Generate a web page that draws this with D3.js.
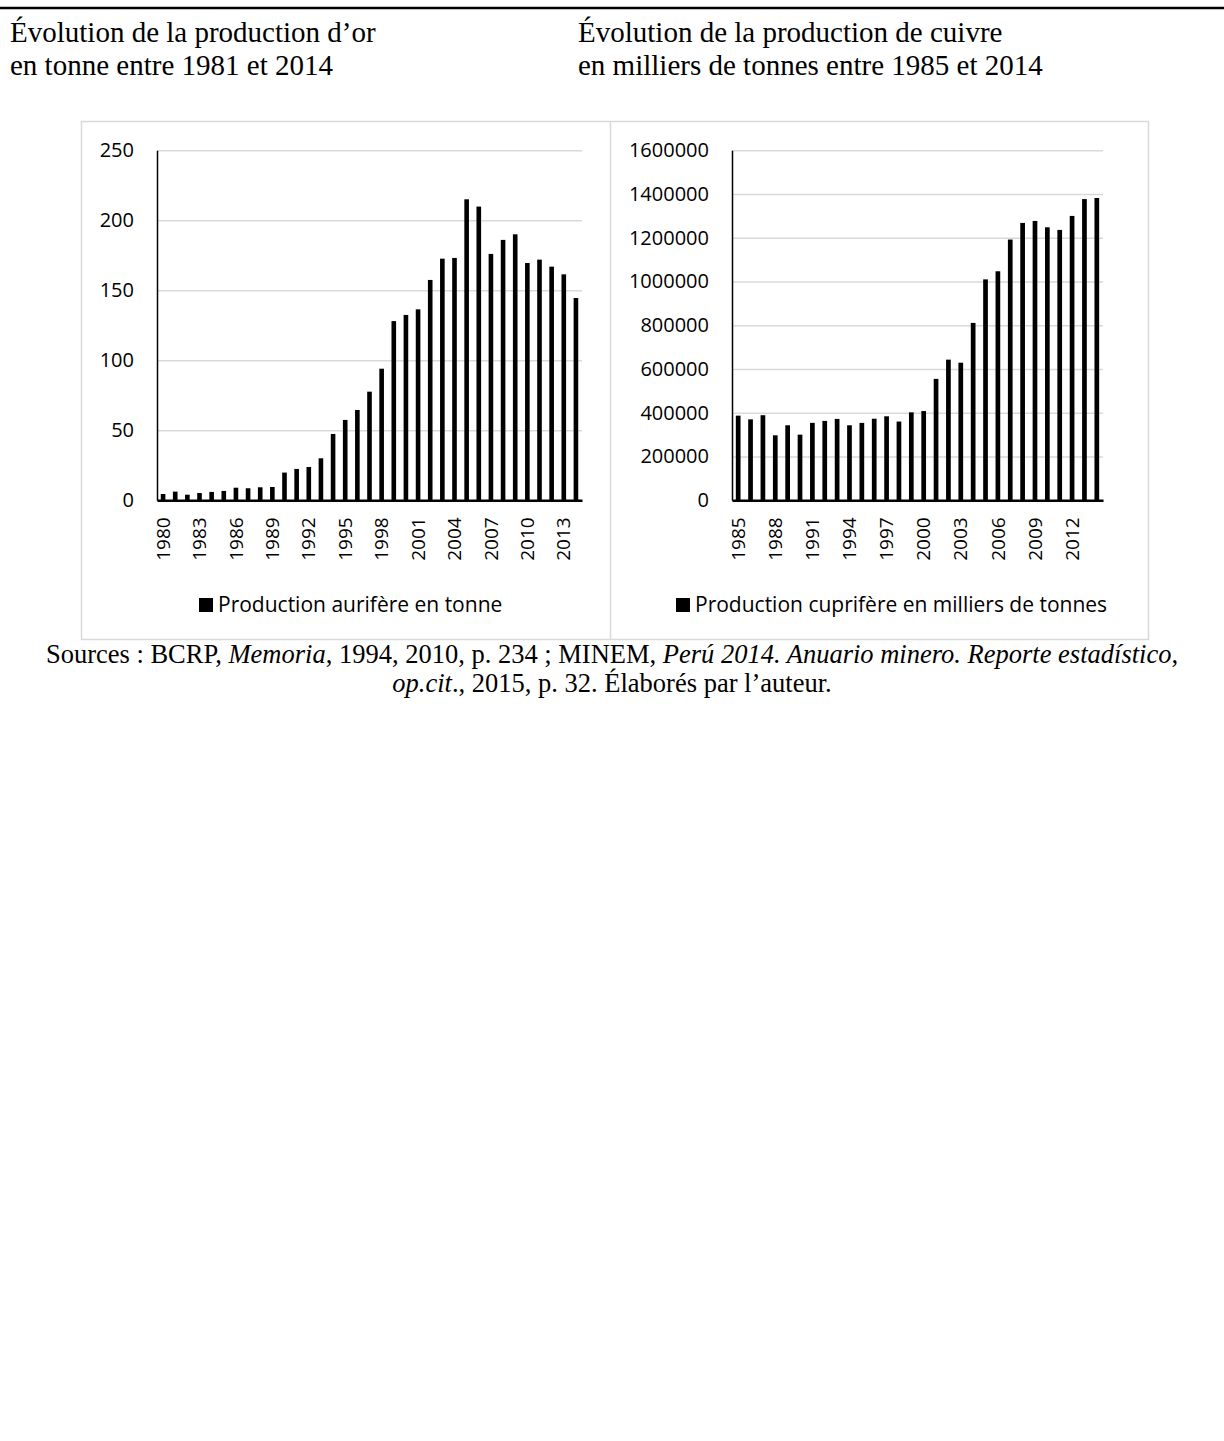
<!DOCTYPE html>
<html>
<head>
<meta charset="utf-8">
<script src="https://cdn.jsdelivr.net/npm/d3@7"></script>
<style>
    body { margin: 0; background: #fff; }
    svg { display: block; }
    .serif { font-family: "Liberation Serif", "Times New Roman", serif; fill: #000; }
    .tick text { font-family: "Open Sans", sans-serif; fill: #000; }
</style>
</head>
<body>
<svg id="page"></svg>
<script>
// gold production, tonnes
const goldYears = [1980, 1981, 1982, 1983, 1984, 1985, 1986, 1987, 1988, 1989,
    1990, 1991, 1992, 1993, 1994, 1995, 1996, 1997, 1998, 1999,
    2000, 2001, 2002, 2003, 2004, 2005, 2006, 2007, 2008, 2009,
    2010, 2011, 2012, 2013, 2014];
const goldValues = [4.5, 6.2, 4, 5.2, 6, 6.7, 9, 8.6, 9.3, 9.5,
    19.8, 22.4, 23.8, 30, 47.4, 57.4, 64.5, 77.6, 94, 128,
    132.4, 136.4, 157.4, 172.6, 173.1, 215, 209.8, 176, 186, 190,
    169.5, 171.9, 166.9, 161.4, 144.5];
const goldTicks = [0, 50, 100, 150, 200, 250];
const goldLabelYears = [1980, 1983, 1986, 1989, 1992, 1995, 1998, 2001, 2004, 2007, 2010, 2013];

// copper production
const copperYears = [1985, 1986, 1987, 1988, 1989, 1990, 1991, 1992, 1993, 1994,
    1995, 1996, 1997, 1998, 1999, 2000, 2001, 2002, 2003, 2004,
    2005, 2006, 2007, 2008, 2009, 2010, 2011, 2012, 2013, 2014];
const copperValues = [387000, 370000, 389000, 297000, 343000, 300000, 354000, 363000, 372000, 343000,
    354000, 373000, 384000, 360000, 402000, 408000, 555000, 643000, 629000, 811000,
    1010000, 1047000, 1192000, 1268000, 1277000, 1248000, 1236000, 1300000, 1377000, 1382000];
const copperTicks = [0, 200000, 400000, 600000, 800000, 1000000, 1200000, 1400000, 1600000];
const copperLabelYears = [1985, 1988, 1991, 1994, 1997, 2000, 2003, 2006, 2009, 2012];

class ColumnChart{

    constructor( config, data ){
	this.config = {
	    parent: config.parent,
	    left: config.left,
	    right: config.right,
	    top: config.top || 150.3,
	    bottom: config.bottom || 500.3,
	    max: config.max,
	    ticks: config.ticks,
	    labels: config.labels,
	    legend: config.legend,
	    legendX: config.legendX
	}
	this.data = data;
	this.init();
    }

    init() {
	let self = this;
	let c = self.config;

	self.g = c.parent.append('g');

	self.xscale = d3.scaleBand()
	    .domain(self.data.map(d => d.year))
	    .range([c.left, c.right])
	    .paddingInner(0.62)
	    .paddingOuter(0.31);

	self.yscale = d3.scaleLinear()
	    .domain([0, c.max])
	    .range([c.bottom, c.top]);

	self.grid = d3.axisLeft(self.yscale)
	    .tickValues(c.ticks.slice(1))
	    .tickSize(-(c.right - c.left))
	    .tickFormat('');

	self.yaxis = d3.axisLeft(self.yscale)
	    .tickValues(c.ticks)
	    .tickSize(0)
	    .tickPadding(23)
	    .tickFormat(d3.format('d'));

	self.xaxis = d3.axisBottom(self.xscale)
	    .tickValues(c.labels)
	    .tickSize(0);
    }

    render() {
	let self = this;
	let c = self.config;

	self.g.append('g')
	    .attr('transform', `translate(${c.left},0)`)
	    .call(self.grid)
	    .call(g => g.select('.domain').remove())
	    .selectAll('line')
	    .attr('stroke', '#d9d9d9')
	    .attr('stroke-width', 1.5);

	self.g.append('g')
	    .attr('transform', `translate(${c.left},0)`)
	    .call(self.yaxis)
	    .call(g => g.select('.domain').attr('stroke', '#000').attr('stroke-width', 1.5))
	    .selectAll('text')
	    .attr('font-size', 20);

	self.g.selectAll('rect.bar')
	    .data(self.data)
	    .join('rect')
	    .attr('class', 'bar')
	    .attr('x', d => self.xscale(d.year))
	    .attr('width', self.xscale.bandwidth())
	    .attr('y', d => self.yscale(d.value))
	    .attr('height', d => c.bottom - self.yscale(d.value))
	    .attr('fill', '#000');

	self.g.append('g')
	    .attr('transform', `translate(0,${c.bottom})`)
	    .call(self.xaxis)
	    .call(g => g.select('.domain').attr('stroke', '#000').attr('stroke-width', 2.5))
	    .selectAll('text')
	    .attr('font-size', 19)
	    .attr('transform', 'rotate(-90)')
	    .attr('x', -17)
	    .attr('y', 0)
	    .attr('dy', '0.35em')
	    .attr('text-anchor', 'end');

	// legend
	let lg = self.g.append('g')
	    .attr('transform', `translate(${c.legendX},612)`);
	lg.append('rect')
	    .attr('x', 0)
	    .attr('y', -14)
	    .attr('width', 14)
	    .attr('height', 14)
	    .attr('fill', '#000');
	lg.append('text')
	    .attr('x', 19)
	    .attr('y', 0)
	    .attr('font-family', '"Open Sans", sans-serif')
	    .attr('font-size', 21)
	    .text(c.legend);
    }
}

const svg = d3.select('#page')
    .attr('width', 1224)
    .attr('height', 1441);

svg.append('rect')
    .attr('width', 1224)
    .attr('height', 1441)
    .attr('fill', '#fff');

// rule at top of page
svg.append('line')
    .attr('x1', 0).attr('x2', 1224)
    .attr('y1', 8).attr('y2', 8)
    .attr('stroke', '#000')
    .attr('stroke-width', 2.5);

const titles = [
    { x: 10, lines: ['Évolution de la production d\u2019or', 'en tonne entre 1981 et 2014'] },
    { x: 578, lines: ['Évolution de la production de cuivre', 'en milliers de tonnes entre 1985 et 2014'] }
];
titles.forEach(t => {
    t.lines.forEach((s, i) => {
	svg.append('text')
	    .attr('class', 'serif')
	    .attr('x', t.x)
	    .attr('y', 42 + i * 33)
	    .attr('font-size', 29)
	    .text(s);
    });
});

// chart frames
svg.append('rect')
    .attr('x', 81.5).attr('y', 121.5)
    .attr('width', 1067).attr('height', 518)
    .attr('fill', 'none')
    .attr('stroke', '#d9d9d9')
    .attr('stroke-width', 1.5);
svg.append('line')
    .attr('x1', 610.5).attr('x2', 610.5)
    .attr('y1', 121.5).attr('y2', 639.5)
    .attr('stroke', '#d9d9d9')
    .attr('stroke-width', 1.5);

let gold = new ColumnChart({
    parent: svg,
    left: 157, right: 582,
    max: 250,
    ticks: goldTicks,
    labels: goldLabelYears,
    legend: 'Production aurifère en tonne',
    legendX: 199
}, goldYears.map((y, i) => ({ year: y, value: goldValues[i] })));
gold.render();

let copper = new ColumnChart({
    parent: svg,
    left: 732, right: 1103,
    max: 1600000,
    ticks: copperTicks,
    labels: copperLabelYears,
    legend: 'Production cuprifère en milliers de tonnes',
    legendX: 676
}, copperYears.map((y, i) => ({ year: y, value: copperValues[i] })));
copper.render();

// sources
const src1 = svg.append('text')
    .attr('class', 'serif')
    .attr('x', 612).attr('y', 663)
    .attr('font-size', 26.5)
    .attr('text-anchor', 'middle');
src1.append('tspan').text('Sources : BCRP, ');
src1.append('tspan').attr('font-style', 'italic').text('Memoria');
src1.append('tspan').text(', 1994, 2010, p. 234 ; MINEM, ');
src1.append('tspan').attr('font-style', 'italic').text('Perú 2014. Anuario minero. Reporte estadístico');
src1.append('tspan').text(',');

const src2 = svg.append('text')
    .attr('class', 'serif')
    .attr('x', 612).attr('y', 692)
    .attr('font-size', 26.5)
    .attr('text-anchor', 'middle');
src2.append('tspan').attr('font-style', 'italic').text('op.cit');
src2.append('tspan').text('., 2015, p. 32. Élaborés par l\u2019auteur.');
</script>
</body>
</html>
